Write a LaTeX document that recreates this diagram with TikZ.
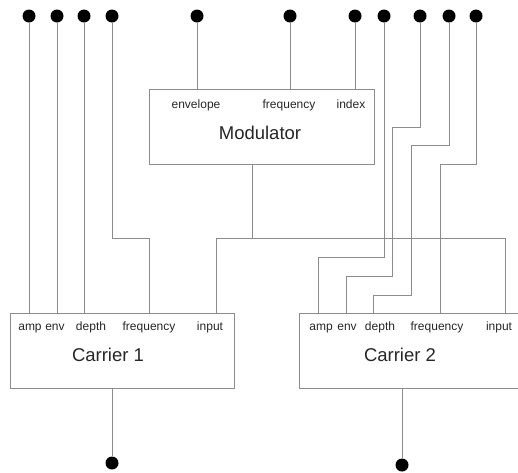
\documentclass[tikz,border=0pt]{standalone}
\usepackage{fontspec}
\setmainfont{Liberation Sans}
\usetikzlibrary{positioning}
\tikzset{
  box/.style = {draw=gray!90, line width=1pt, rectangle, minimum width=224pt, minimum height=75pt, inner sep=0pt},
  port/.style = {font=\fontsize{12}{14}\selectfont, text=black!85, inner sep=0pt, anchor=base},
  title/.style = {font=\fontsize{18.5}{22}\selectfont, text=black!85, inner sep=0pt, anchor=base},
  pin/.style = {circle, fill=black, minimum size=13pt, inner sep=0pt},
  wire/.style = {draw=gray!90, line width=1pt}
}

\begin{document}
\begin{tikzpicture}[x=1pt, y=-1pt]
  \useasboundingbox (0,0) rectangle (518,472);

  % boxes
  \node[box, minimum width=225pt] (mod) at (261.5,126.5) {};
  \node[box] (car1) at (122,350.5) {};
  \node[box, minimum width=240pt] (car2) at (419,350.5) {};

  \node[title] (modname) at (260,139.5) {Modulator};
  \node[title] (car1name) at (108,361.5) {Carrier 1};
  \node[title] (car2name) at (400,361.5) {Carrier 2};

  % port labels
  \node[port] (menv) at (196,108) {envelope};
  \node[port] (mfrq) at (289,108) {frequency};
  \node[port] (midx) at (351,108) {index};

  \node[port] (c1amp) at (30,330) {amp};
  \node[port] (c1env) at (55,330) {env};
  \node[port] (c1dep) at (91,330) {depth};
  \node[port] (c1frq) at (149,330) {frequency};
  \node[port] (c1in) at (210,330) {input};

  \node[port] (c2amp) at (321,330) {amp};
  \node[port] (c2env) at (347,330) {env};
  \node[port] (c2dep) at (380,330) {depth};
  \node[port] (c2frq) at (437,330) {frequency};
  \node[port] (c2in) at (499,330) {input};

  % pins
  \node[pin] (pamp1) at (29,16) {};
  \node[pin] (penv1) at (57,16) {};
  \node[pin] (pdep1) at (84,16) {};
  \node[pin] (pfrq1) at (112,16) {};
  \node[pin] (pmenv) at (197,16) {};
  \node[pin] (pmfrq) at (290,16) {};
  \node[pin] (pmidx) at (355,16) {};
  \node[pin] (pamp2) at (384,16) {};
  \node[pin] (penv2) at (420,16) {};
  \node[pin] (pdep2) at (449,16) {};
  \node[pin] (pfrq2) at (476,16) {};
  \node[pin] (pout1) at (112,463) {};
  \node[pin] (pout2) at (402,465) {};

  % bends
  \coordinate (k1) at (149,238);
  \coordinate (mout) at (252,238);
  \coordinate (in1) at (216,238);
  \coordinate (in2) at (505,238);
  \coordinate (k2) at (318,257);
  \coordinate (k3a) at (392,127);
  \coordinate (k3b) at (346,276);
  \coordinate (k4a) at (411,145);
  \coordinate (k4b) at (373,295);
  \coordinate (k5) at (440,164);

  % wires
  \draw[wire] (pamp1) -- (pamp1 |- car1.north);
  \draw[wire] (penv1) -- (penv1 |- car1.north);
  \draw[wire] (pdep1) -- (pdep1 |- car1.north);
  \draw[wire] (pfrq1) |- (k1) -- (k1 |- car1.north);

  \draw[wire] (pmenv) -- (pmenv |- mod.north);
  \draw[wire] (pmfrq) -- (pmfrq |- mod.north);
  \draw[wire] (pmidx) -- (pmidx |- mod.north);

  \draw[wire] (mout |- mod.south) -- (mout);
  \draw[wire] (in1 |- car1.north) -- (in1) -- (in2) -- (in2 |- car2.north);

  \draw[wire] (pamp2) |- (k2) -- (k2 |- car2.north);
  \draw[wire] (penv2) |- (k3a) |- (k3b) -- (k3b |- car2.north);
  \draw[wire] (pdep2) |- (k4a) |- (k4b) -- (k4b |- car2.north);
  \draw[wire] (pfrq2) |- (k5) -- (k5 |- car2.north);

  \draw[wire] (pout1 |- car1.south) -- (pout1);
  \draw[wire] (pout2 |- car2.south) -- (pout2);
\end{tikzpicture}
\end{document}
